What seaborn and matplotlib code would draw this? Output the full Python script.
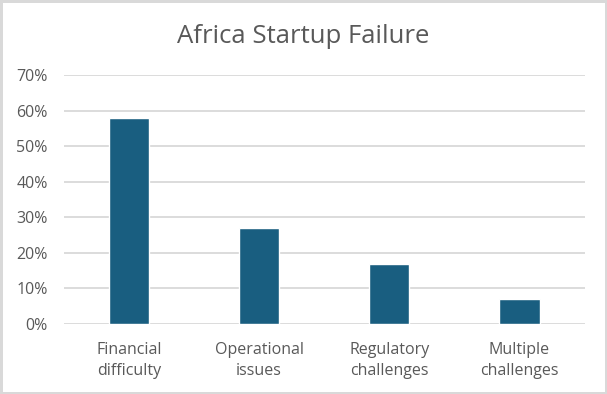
import pandas as pd
import matplotlib.pyplot as plt
import seaborn as sns
from matplotlib.ticker import PercentFormatter

# Data
categories = ['Financial\ndifficulty', 'Operational\nissues', 'Regulatory\nchallenges', 'Multiple\nchallenges']
failure_share = [0.58, 0.27, 0.17, 0.07]

df = pd.DataFrame({'Reason': categories, 'Share': failure_share})

sns.set_style('white')
plt.rcParams['font.family'] = ['Open Sans', 'DejaVu Sans']

fig = plt.figure(figsize=(6.07, 3.94), dpi=100)
fig.patch.set_edgecolor('#d9d9d9')
fig.patch.set_linewidth(2.5)
ax = fig.add_axes([0.105, 0.1777, 0.858, 0.632])

sns.barplot(data=df, x='Reason', y='Share', color='#195e80', width=0.31,
            saturation=1, ax=ax, zorder=3)

ax.set_ylim(0, 0.7)
ax.set_yticks([i / 10 for i in range(8)])
ax.yaxis.set_major_formatter(PercentFormatter(1.0, decimals=0))
ax.grid(axis='y', color='#d9d9d9', linewidth=1.3, zorder=0)
for s in ax.spines.values():
    s.set_visible(False)
ax.tick_params(axis='both', length=0, colors='#595959', labelsize=11.5)
ax.tick_params(axis='y', pad=11.5)
ax.tick_params(axis='x', pad=13)
for lbl in ax.get_xticklabels():
    lbl.set_linespacing(1.45)
ax.set_xlabel('')
ax.set_ylabel('')

fig.suptitle('Africa Startup Failure', y=0.94, fontsize=18.5, color='#595959')

fig.savefig('out.png', dpi=100)
